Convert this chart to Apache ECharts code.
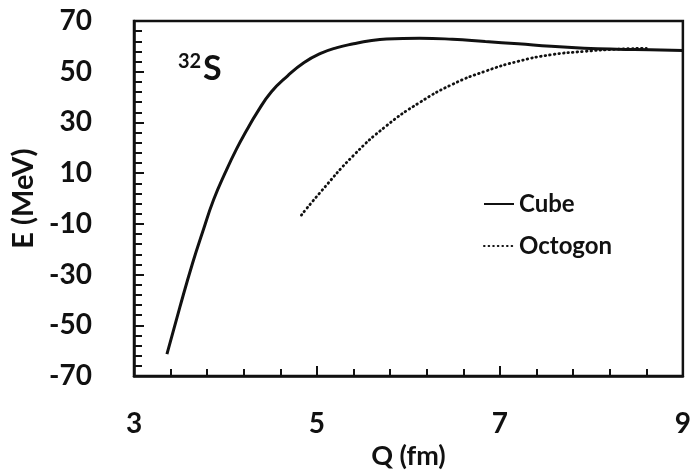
<!DOCTYPE html>
<html>
<head>
<meta charset="utf-8">
<script src="https://cdn.jsdelivr.net/npm/echarts@6/dist/echarts.min.js"></script>
<style>
  html, body { margin: 0; padding: 0; background: #fff; }
  #chart { width: 694px; height: 475px; }
</style>
</head>
<body>
<div id="chart"></div>
<script>
// Deformation energy of 32S versus elongation Q for two cluster shapes
const cubeQ = [3.36, 3.50, 3.64, 3.75, 3.87, 4.00, 4.12, 4.23, 4.34, 4.50, 4.68, 4.86, 5.04, 5.22, 5.40, 5.58, 5.76, 6.12, 6.48, 6.84, 7.20, 7.56, 7.92, 8.28, 8.64, 9.0];
const cubeE = [-61.3, -43.0, -25.5, -13.2, -0.5, 10.4, 19.5, 26.8, 33.6, 42.0, 48.4, 53.6, 57.2, 59.5, 61.0, 62.2, 62.9, 63.2, 62.8, 61.9, 61.0, 60.0, 59.3, 58.9, 58.7, 58.4];

const octQ = [4.83, 5.04, 5.40, 5.76, 6.12, 6.48, 6.84, 7.20, 7.56, 7.92, 8.28, 8.6];
const octE = [-6.5, 2.6, 17, 28.7, 37.8, 45, 50.2, 54.1, 56.7, 58, 58.9, 59.2];

const xTicks = [3, 5, 7, 9];
const yTicks = [-70, -50, -30, -10, 10, 30, 50, 70];

const FONT = 'Lato';
const INK = '#111';

const pairs = (xs, ys) => xs.map((x, i) => [x, ys[i]]);

const chart = echarts.init(document.getElementById('chart'), null, { renderer: 'canvas' });

chart.setOption({
  animation: false,
  backgroundColor: '#fff',
  grid: {
    left: 134, right: 4, top: 21, bottom: 96,
    show: true, borderColor: INK, borderWidth: 2.5, backgroundColor: 'transparent'
  },
  xAxis: {
    type: 'value',
    min: xTicks[0], max: xTicks[xTicks.length - 1], interval: 2,
    name: 'Q (fm)', nameLocation: 'middle', nameGap: 50,
    nameTextStyle: { fontFamily: FONT, fontWeight: 'bold', fontSize: 27, color: INK },
    axisLine: { show: true, onZero: false, lineStyle: { color: INK, width: 2.5 } },
    axisTick: { show: true, inside: true, length: 10, lineStyle: { color: INK, width: 2 } },
    minorTick: { show: true, splitNumber: 5, length: 7, lineStyle: { color: INK, width: 2 } },
    axisLabel: { margin: 34, fontFamily: FONT, fontWeight: 'bold', fontSize: 28, color: INK },
    splitLine: { show: false }
  },
  yAxis: {
    type: 'value',
    min: yTicks[0], max: yTicks[yTicks.length - 1], interval: 20,
    name: 'E (MeV)', nameLocation: 'middle', nameGap: 84,
    nameTextStyle: { fontFamily: FONT, fontWeight: 'bold', fontSize: 29, color: INK },
    axisLine: { show: true, onZero: false, lineStyle: { color: INK, width: 2.5 } },
    axisTick: { show: true, inside: true, length: 10, lineStyle: { color: INK, width: 2 } },
    minorTick: { show: true, splitNumber: 5, length: 8, lineStyle: { color: INK, width: 2 } },
    axisLabel: { margin: 42, fontFamily: FONT, fontWeight: 'bold', fontSize: 28, color: INK },
    splitLine: { show: false }
  },
  legend: {
    orient: 'vertical',
    left: 478, top: 186,
    itemWidth: 30, itemHeight: 14, itemGap: 16,
    itemStyle: { opacity: 0 },
    textStyle: { fontFamily: FONT, fontWeight: 'bold', fontSize: 24, color: INK, lineHeight: 26 },
    data: ['Cube', 'Octogon']
  },
  graphic: [
    { type: 'text', left: 178, top: 52,
      style: { text: '32', fontFamily: FONT, fontWeight: 'bold', fontSize: 20, fill: INK } },
    { type: 'text', left: 203, top: 52,
      style: { text: 'S', fontFamily: FONT, fontWeight: 'bold', fontSize: 34, fill: INK } }
  ],
  series: [
    {
      name: 'Cube', type: 'line', data: pairs(cubeQ, cubeE),
      smooth: 0.5, symbol: 'none', showSymbol: false,
      lineStyle: { color: INK, width: 3 }, itemStyle: { color: INK }
    },
    {
      name: 'Octogon', type: 'line', data: pairs(octQ, octE),
      smooth: 0.5, symbol: 'none', showSymbol: false,
      lineStyle: { color: INK, width: 2.8, type: [0.6, 4], cap: 'round' }, itemStyle: { color: INK }
    }
  ]
});
</script>
</body>
</html>
